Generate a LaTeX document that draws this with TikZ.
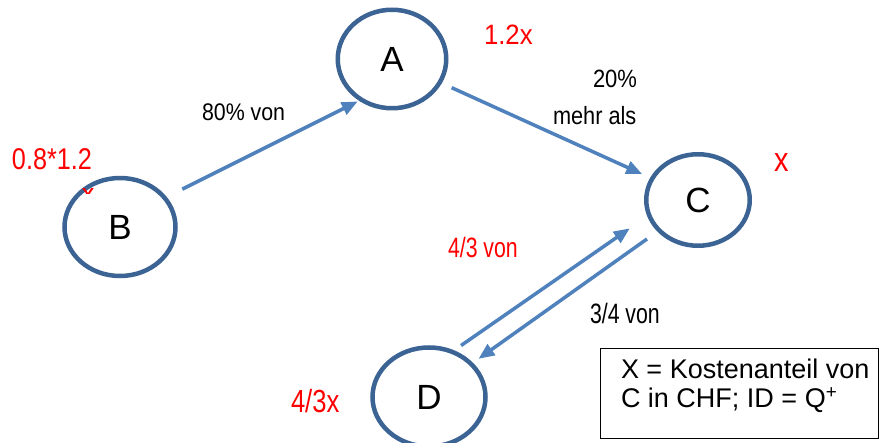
\documentclass[tikz,border=0pt]{standalone}
\usepackage{fontspec}
\setmainfont{Liberation Sans}
\usetikzlibrary{shapes.geometric,arrows.meta}
\definecolor{circblue}{HTML}{3B6394}
\definecolor{arrblue}{HTML}{4F81BD}
\definecolor{labred}{HTML}{FF0000}
\newcommand{\fs}[1]{\fontsize{#1}{#1}\selectfont}
\newcommand{\nar}[2]{\scalebox{#1}[1]{#2}}
\begin{document}
\begin{tikzpicture}[x=1pt,y=-1pt,
  circ/.style={ellipse, draw=circblue, line width=4.5pt, fill=white, inner sep=0pt, outer sep=0pt, font=\fs{35}},
  arr/.style={draw=arrblue, line width=3.5pt, -{Triangle[length=16pt,width=13pt]}},
  lab/.style={inner sep=0pt, outer sep=0pt, anchor=base west},
  red/.style={lab, text=labred}]
\useasboundingbox (0,0) rectangle (879,443);
% circles
\node[circ, minimum width=108.5pt, minimum height=98.5pt] (A) at (392,59) {A};
\node[circ, minimum width=111pt, minimum height=98pt] (B) at (120,227) {B};
\node[circ, minimum width=103.5pt, minimum height=91.5pt] (C) at (698,200) {C};
\node[circ, minimum width=113pt, minimum height=99pt] (D) at (429,397) {D};
% clipped x inside B (only its top shows)
\begin{scope}
\clip (78,188.5) rectangle (98,194);
\node[red, font=\fs{28}] (hx) at (81,203) {x};
\end{scope}
% arrows
\draw[arr, shorten <=19.6pt, shorten >=4pt] (B.33.3) -- (A.233.1);
\draw[arr, shorten <=13pt, shorten >=11pt] (A.-26.95) -- (C.155.1);
\draw[arr, shorten <=11pt, shorten >=23.5pt] (D.63) -- (C.197.9);
\draw[arr, shorten <=15pt, shorten >=9pt] (C.218.7) -- (D.38.5);
% labels
\node[lab, font=\fs{24}] (l1) at (202,121) {\nar{.89}{80\% von}};
\node[lab, font=\fs{25}] (l2) at (593,88) {\nar{.88}{20\%}};
\node[lab, font=\fs{25}] (l3) at (553,125) {\nar{.87}{mehr als}};
\node[lab, font=\fs{28}] (l4) at (590,324) {\nar{.76}{3/4 von}};
\node[red, font=\fs{28}] (r1) at (484,45) {\nar{.92}{1.2x}};
\node[red, font=\fs{30}] (r2) at (12,170) {\nar{.84}{0.8*1.2}};
\node[red, font=\fs{34}] (r3) at (774,172) {\nar{.85}{x}};
\node[red, font=\fs{28}] (r4) at (448,258) {\nar{.76}{4/3 von}};
\node[red, font=\fs{32}] (r5) at (291,413) {\nar{.8}{4/3x}};
% info box
\draw[line width=1pt] (600,349) rectangle (878,439);
\node[lab, font=\fs{27}] (b1) at (621,379) {X = Kostenanteil von};
\node[lab, font=\fs{27}] (b2) at (621,408) {C in CHF; ID = Q\textsuperscript{+}};
\end{tikzpicture}
\end{document}
